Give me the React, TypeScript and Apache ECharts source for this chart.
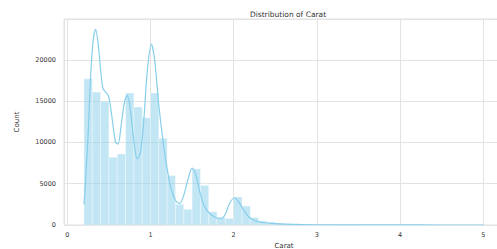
import React, { useEffect, useRef } from "react";
import * as echarts from "echarts";

const title = "Distribution of Carat";
const xName = "Carat";
const yName = "Count";
const xTicks = [0, 1, 2, 3, 4, 5];
const yTicks = [0, 5000, 10000, 15000, 20000];

// histogram bins: start carat, bin width, counts
const binStart = 0.2;
const binWidth = 0.1;
const binCounts = [
  17700, 16100, 15000, 8200, 8600, 16000, 14300, 13000, 16000, 10500, 6000, 2500,
  1900, 6800, 4800, 1600, 900, 800, 3400, 2300, 900, 500, 350, 250, 180, 130, 100,
  80, 60, 45, 35, 25, 20, 15, 12, 10, 8, 6, 5, 4, 3, 3, 2, 2, 1, 1, 1, 2,
];

// KDE curve (carat, scaled count)
const kdeX = [
  0.2, 0.22, 0.25, 0.28, 0.31, 0.34, 0.37, 0.4, 0.43, 0.47, 0.5, 0.54, 0.58, 0.61,
  0.65, 0.69, 0.72, 0.76, 0.8, 0.84, 0.88, 0.92, 0.96, 1.01, 1.05, 1.1, 1.15, 1.2,
  1.25, 1.3, 1.35, 1.4, 1.45, 1.5, 1.55, 1.6, 1.65, 1.7, 1.75, 1.8, 1.85, 1.9, 1.95,
  2.01, 2.06, 2.12, 2.18, 2.25, 2.35, 2.5, 2.7, 3.0, 3.5, 4.0, 4.5, 5.01,
];
const kdeY = [
  2500, 5500, 11000, 18000, 22300, 23700, 22000, 18800, 16500, 16000, 15500, 12800,
  10000, 9800, 12300, 15000, 15700, 13800, 10200, 8000, 8800, 12800, 18500, 21900,
  20000, 14500, 10200, 6800, 4300, 3000, 2600, 3600, 5500, 6900, 5900, 3700, 2200,
  1500, 1100, 850, 800, 1300, 2600, 3300, 2800, 1800, 1000, 550, 300, 160, 75, 30,
  10, 5, 3, 2,
];

const barColor = "rgba(135,206,235,0.5)";
const lineColor = "#87CEEB";
const gridColor = "#e3e3e3";
const textColor = "#333333";

export default function App() {
  const ref = useRef<HTMLDivElement>(null);
  useEffect(() => {
    if (!ref.current) return;
    const chart = echarts.init(ref.current, null, { renderer: "svg" });
    const barData = binCounts.map((c, i) => [
      binStart + i * binWidth,
      binStart + (i + 1) * binWidth,
      c,
    ]);
    const kdeData = kdeX.map((x, i) => [x, kdeY[i]]);
    chart.setOption({
      animation: false,
      title: {
        text: title,
        left: 283,
        top: 5,
        textAlign: "center",
        textStyle: { fontSize: 7.5, fontWeight: "normal", color: textColor, fontFamily: "DejaVu Sans" },
      },
      grid: {
        left: 64,
        width: 440,
        top: 19,
        bottom: 24,
        outerBoundsMode: "none",
        containLabel: false,
        show: true,
        borderColor: gridColor,
        borderWidth: 1,
      },
      xAxis: {
        type: "value",
        min: -0.04,
        max: 5.25,
        name: xName,
        nameLocation: "middle",
        nameGap: 14,
        nameTextStyle: { fontSize: 7, color: textColor, fontFamily: "DejaVu Sans" },
        axisLine: { show: false },
        axisTick: { show: false },
        axisLabel: {
          fontSize: 6.5,
          color: textColor,
          fontFamily: "DejaVu Sans",
          margin: 6,
          customValues: xTicks,
        },
        splitLine: { show: true, lineStyle: { color: gridColor, width: 1 } },
        customValues: xTicks,
      },
      yAxis: {
        type: "value",
        min: 0,
        max: 24950,
        interval: 5000,
        name: yName,
        nameLocation: "middle",
        nameGap: 44,
        nameTextStyle: { fontSize: 7, color: textColor, fontFamily: "DejaVu Sans" },
        axisLine: { show: false },
        axisTick: { show: false },
        axisLabel: {
          fontSize: 6.5,
          color: textColor,
          fontFamily: "DejaVu Sans",
          margin: 8,
          showMaxLabel: false,
          formatter: (v: number) => (yTicks.includes(v) ? String(v) : ""),
        },
        splitLine: { show: true, lineStyle: { color: gridColor, width: 1 } },
      },
      series: [
        {
          type: "custom",
          data: barData,
          encode: { x: [0, 1], y: 2 },
          renderItem: (params: any, api: any) => {
            const p0 = api.coord([api.value(0), api.value(2)]);
            const p1 = api.coord([api.value(1), 0]);
            return {
              type: "rect",
              shape: { x: p0[0], y: p0[1], width: p1[0] - p0[0], height: p1[1] - p0[1] },
              style: { fill: barColor, stroke: "rgba(255,255,255,0.6)", lineWidth: 0.6 },
            };
          },
          z: 2,
        },
        {
          type: "line",
          data: kdeData,
          smooth: 0.3,
          showSymbol: false,
          lineStyle: { color: lineColor, width: 1.2 },
          z: 3,
        },
      ],
    });
    return () => chart.dispose();
  }, []);
  return (
    <div
      ref={ref}
      style={{ position: "absolute", left: 0, top: 0, width: 497, height: 249 }}
    />
  );
}
